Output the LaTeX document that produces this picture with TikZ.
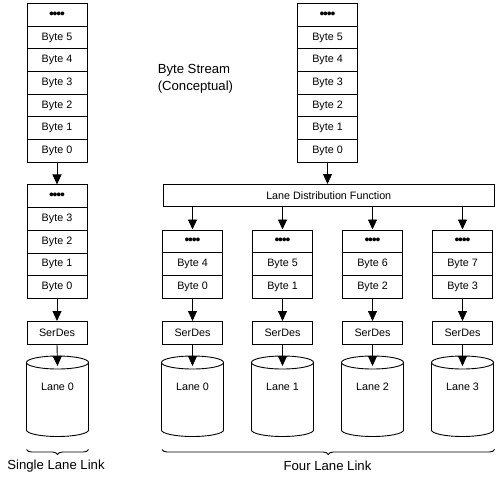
\documentclass[tikz,border=0pt]{standalone}
\usepackage{fontspec}
\setmainfont{Liberation Sans}
\usetikzlibrary{arrows.meta,decorations.pathreplacing,calc}
\newcommand\mydots{{\fontsize{14}{14}\selectfont•\kern-1.2pt•\kern-1.2pt•\kern-1.2pt•}\hspace{10bp}}
\begin{document}
\begin{tikzpicture}[x=1bp,y=-1bp,
  line width=0.9bp,
  cell/.style={draw,minimum width=60bp,minimum height=22.7bp,inner sep=0pt,
    font=\fontsize{10.8}{12}\selectfont,anchor=north},
  serdes/.style={cell,minimum height=22.5bp},
  arr/.style={-{Triangle[width=9bp,length=10bp]}},
  big/.style={font=\fontsize{13.2}{16.6}\selectfont},
  lanelab/.style={font=\fontsize{10.8}{12}\selectfont},
  cyl/.style={fill=white},
  bracestyle/.style={decorate,decoration={brace,mirror,amplitude=5bp}}]
\useasboundingbox (0,0) rectangle (498,478);

% conceptual byte streams
\foreach \lab [count=\i from 0] in {\mydots,Byte 5,Byte 4,Byte 3,Byte 2,Byte 1,Byte 0}{
  \node[cell] (A\i) at (57,{3+22.7*\i}) {\lab};
  \node[cell] (B\i) at (327.5,{3+22.7*\i}) {\lab};
}
\node[align=left,anchor=west,big] (bs) at (154,79) {Byte Stream\\(Conceptual)};

% single lane
\foreach \lab [count=\i from 0] in {\mydots,Byte 3,Byte 2,Byte 1,Byte 0}{
  \node[cell] (C\i) at (57,{184.5+22.7*\i}) {\lab};
}
\node[serdes] (S) at (57,321) {SerDes};

% lane distribution
\node[draw,minimum width=331.5bp,minimum height=22bp,inner sep=0pt,
  font=\fontsize{10.8}{12}\selectfont] (ldf) at (328.75,195.5) {Lane Distribution Function};

\foreach \k in {0,1,2,3}{
  \pgfmathtruncatemacro\hi{\k+4}
  \node[cell] (D\k0) at ({192.5+90*\k},229.5) {\mydots};
  \node[cell] (D\k1) at ({192.5+90*\k},252.2) {Byte \hi};
  \node[cell] (D\k2) at ({192.5+90*\k},274.9) {Byte \k};
  \node[serdes] (S\k) at ({192.5+90*\k},321) {SerDes};
}

% cylinders
\foreach \cx/\nm/\lab in {57.5/Y/Lane 0,192.5/Y0/Lane 0,282.5/Y1/Lane 1,372.5/Y2/Lane 2,462.5/Y3/Lane 3}{
  \draw[cyl] (\cx-31,362.5) -- (\cx-31,430)
    arc[start angle=180,end angle=0,x radius=31,y radius=6.5] -- (\cx+31,362.5);
  \draw[cyl] (\cx,362.5) ellipse[x radius=31,y radius=6.5];
  \coordinate (\nm t) at (\cx,366);
  \node[lanelab] (\nm) at (\cx,387) {\lab};
}

% arrows
\draw[arr] (A6.south) -- (C0.north);
\draw[arr] (C4.south) -- (S.north);
\draw[arr] (S.south) -- (Yt);
\draw[arr] (B6.south) -- (B6.south |- ldf.north);
\foreach \k in {0,1,2,3}{
  \draw[arr] (D\k0.north |- ldf.south) -- (D\k0.north);
  \draw[arr] (D\k2.south) -- (S\k.north);
  \draw[arr] (S\k.south) -- (Y\k t);
}

% braces
\coordinate (b1l) at (26.5,449.5);
\coordinate (b1r) at (88.5,449.5);
\coordinate (b2l) at (162,449.5);
\coordinate (b2r) at (494.5,449.5);
\draw[bracestyle] (b1l) -- (b1r);
\draw[bracestyle] (b2l) -- (b2r);
\node[big] (sll) at (56,466) {Single Lane Link};
\node[big] (fll) at (327.5,466) {Four Lane Link};
\end{tikzpicture}
\end{document}
